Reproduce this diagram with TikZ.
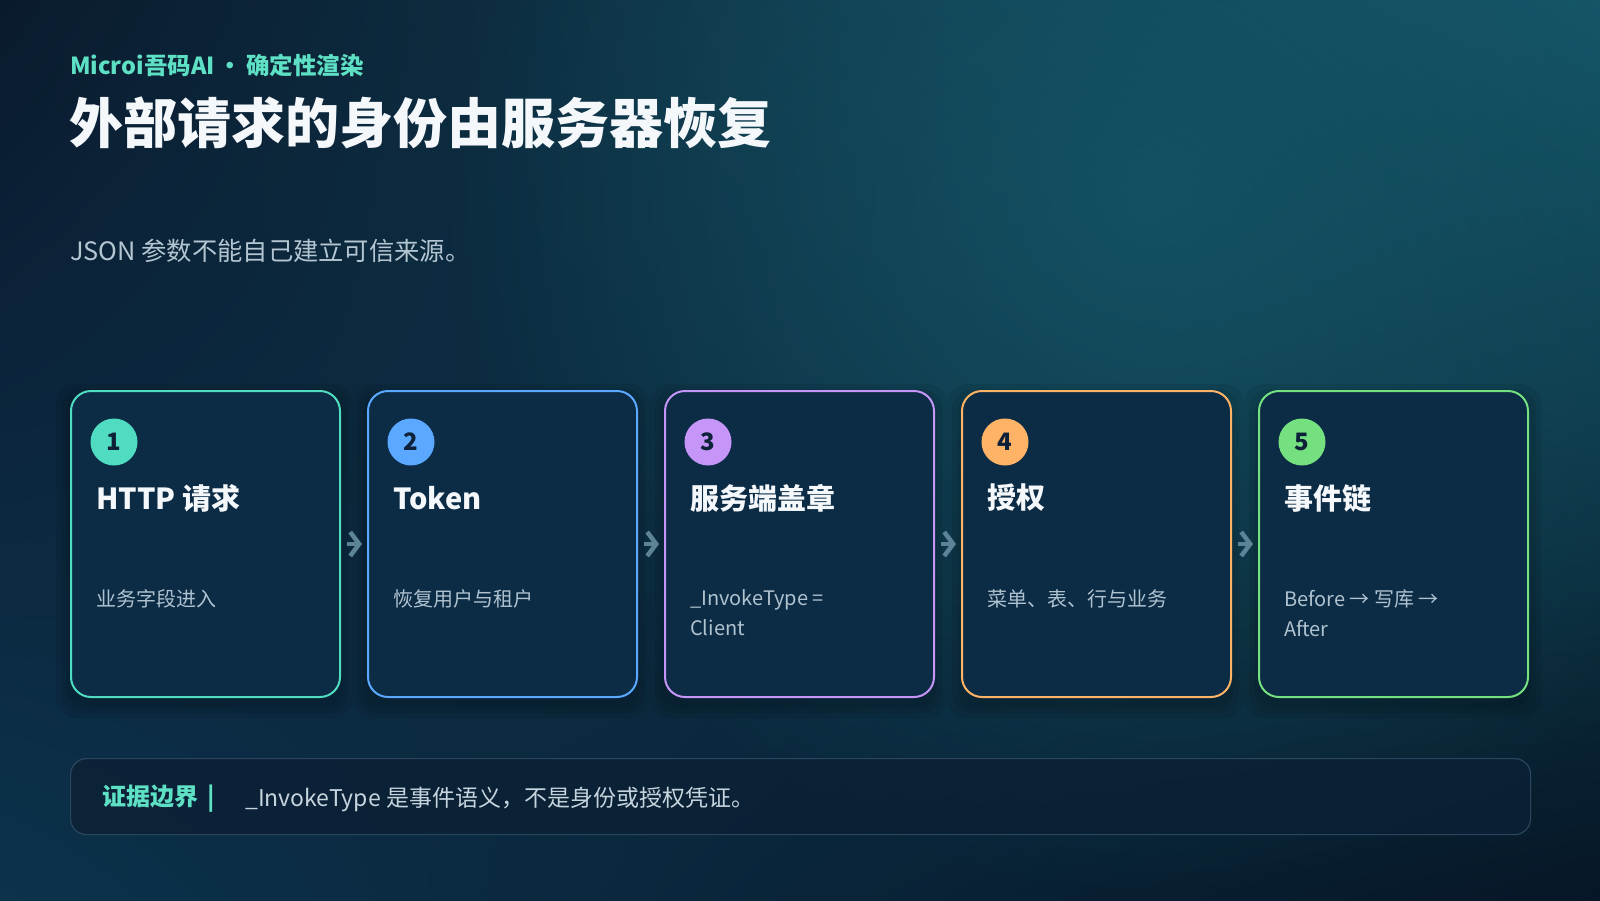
\documentclass[tikz,border=0pt]{standalone}
\usepackage{fontspec}
\setmainfont{Noto Sans CJK SC}
\usetikzlibrary{arrows.meta,fadings,shadings}
\definecolor{bgA}{HTML}{0A1A2E}
\definecolor{bgB}{HTML}{145566}
\definecolor{bgC}{HTML}{0C324C}
\definecolor{bgD}{HTML}{061626}
\definecolor{glowc}{HTML}{16586A}
\definecolor{accent}{HTML}{5EE0C4}
\definecolor{titlec}{HTML}{F4F8FB}
\definecolor{leadc}{HTML}{B4C6D2}
\definecolor{subc}{HTML}{AFC2CF}
\definecolor{cardf}{HTML}{0C2B45}
\definecolor{numc}{HTML}{0D2238}
\definecolor{arrowc}{HTML}{5D8397}
\definecolor{boxf}{HTML}{0B2035}
\definecolor{boxb}{HTML}{29465D}
\definecolor{boxt}{HTML}{C6D4DE}
\definecolor{cA}{HTML}{50DCC0}
\definecolor{cB}{HTML}{5AA8FF}
\definecolor{cC}{HTML}{C596F8}
\definecolor{cD}{HTML}{FFB366}
\definecolor{cE}{HTML}{74E07F}
\tikzfading[name=glowfade, inner color=transparent!25, outer color=transparent!100]
\begin{document}
\begin{tikzpicture}[x=1pt,y=-1pt,
  card/.style={draw=#1, line width=2pt, rounded corners=20pt, fill=cardf,
    minimum width=269pt, minimum height=306pt, inner sep=0pt, anchor=north west},
  badge/.style={circle, fill=#1, minimum size=47pt, inner sep=0pt,
    font=\fontsize{24}{24}\selectfont\bfseries, text=numc},
  ctitle/.style={anchor=west, font=\fontsize{29}{29}\selectfont\bfseries, text=titlec, inner sep=0pt},
  csub/.style={anchor=north west, align=left, font=\fontsize{20}{30}\selectfont, text=subc, inner sep=0pt},
  flow/.style={draw=arrowc, line width=4.5pt, -{Straight Barb[length=9pt, width=24pt]},
    shorten <=6pt, shorten >=5pt}]
\useasboundingbox (0,0) rectangle (1600,900);
% background
\shade[upper left=bgA, upper right=bgB, lower left=bgC, lower right=bgD] (0,0) rectangle (1600,900);
\fill[glowc, path fading=glowfade] (1150,200) circle[radius=700pt];
% card shadows
\foreach \x in {70,367,664,961,1258}{
  \foreach \s in {4,9,14}{
    \fill[black, opacity=0.07, rounded corners=20pt] (\x-\s,390-\s+8) rectangle (\x+269+\s,696+\s+8);
  }
}
% header
\node[anchor=west, text=accent, font=\fontsize{23.5}{24}\selectfont\bfseries, inner sep=0pt] (kick) at (70,65) {Microi吾码AI\,•\,确定性渲染};
\node[anchor=west, text=titlec, font=\fontsize{54}{54}\selectfont\bfseries, inner sep=0pt] (title) at (69,123) {外部请求的身份由服务器恢复};
\node[anchor=west, text=leadc, font=\fontsize{25.3}{25}\selectfont, inner sep=0pt] (lead) at (70,251) {JSON 参数不能自己建立可信来源。};
% cards
\node[card=cA] (k1) at (70,390) {};
\node[card=cB] (k2) at (367,390) {};
\node[card=cC] (k3) at (664,390) {};
\node[card=cD] (k4) at (961,390) {};
\node[card=cE] (k5) at (1258,390) {};
\node[badge=cA] (b1) at ([xshift=44pt,yshift=-52pt]k1.north west) {1};
\node[badge=cB] (b2) at ([xshift=44pt,yshift=-52pt]k2.north west) {2};
\node[badge=cC] (b3) at ([xshift=44pt,yshift=-52pt]k3.north west) {3};
\node[badge=cD] (b4) at ([xshift=44pt,yshift=-52pt]k4.north west) {4};
\node[badge=cE] (b5) at ([xshift=44pt,yshift=-52pt]k5.north west) {5};
\node[ctitle] (t1) at ([xshift=26pt,yshift=-108pt]k1.north west) {HTTP 请求};
\node[ctitle] (t2) at ([xshift=26pt,yshift=-108pt]k2.north west) {Token};
\node[ctitle] (t3) at ([xshift=26pt,yshift=-108pt]k3.north west) {服务端盖章};
\node[ctitle] (t4) at ([xshift=26pt,yshift=-108pt]k4.north west) {授权};
\node[ctitle] (t5) at ([xshift=26pt,yshift=-108pt]k5.north west) {事件链};
\node[csub] (s1) at ([xshift=26pt,yshift=-199pt]k1.north west) {业务字段进入};
\node[csub] (s2) at ([xshift=26pt,yshift=-199pt]k2.north west) {恢复用户与租户};
\node[csub] (s3) at ([xshift=26pt,yshift=-199pt]k3.north west) {\_InvokeType =\\Client};
\node[csub] (s4) at ([xshift=26pt,yshift=-199pt]k4.north west) {菜单、表、行与业务};
\node[csub] (s5) at ([xshift=26pt,yshift=-199pt]k5.north west) {Before → 写库 →\\After};
% connectors
\draw[flow] (k1.east) -- (k2.west);
\draw[flow] (k2.east) -- (k3.west);
\draw[flow] (k3.east) -- (k4.west);
\draw[flow] (k4.east) -- (k5.west);
% bottom note
\node[draw=boxb, fill=boxf, fill opacity=0.85, draw opacity=1, rounded corners=16pt, line width=1.2pt,
  minimum width=1460pt, minimum height=76pt, inner sep=0pt, anchor=north west] (bx) at (70,758) {};
\node[anchor=west, text=accent, font=\fontsize{24}{24}\selectfont\bfseries, inner sep=0pt] (bl) at (102,799) {证据边界\hspace{9pt}|};
\node[anchor=west, text=boxt, font=\fontsize{23}{23}\selectfont, inner sep=0pt] (bt) at (245,799) {\_InvokeType 是事件语义，不是身份或授权凭证。};
\end{tikzpicture}
\end{document}
